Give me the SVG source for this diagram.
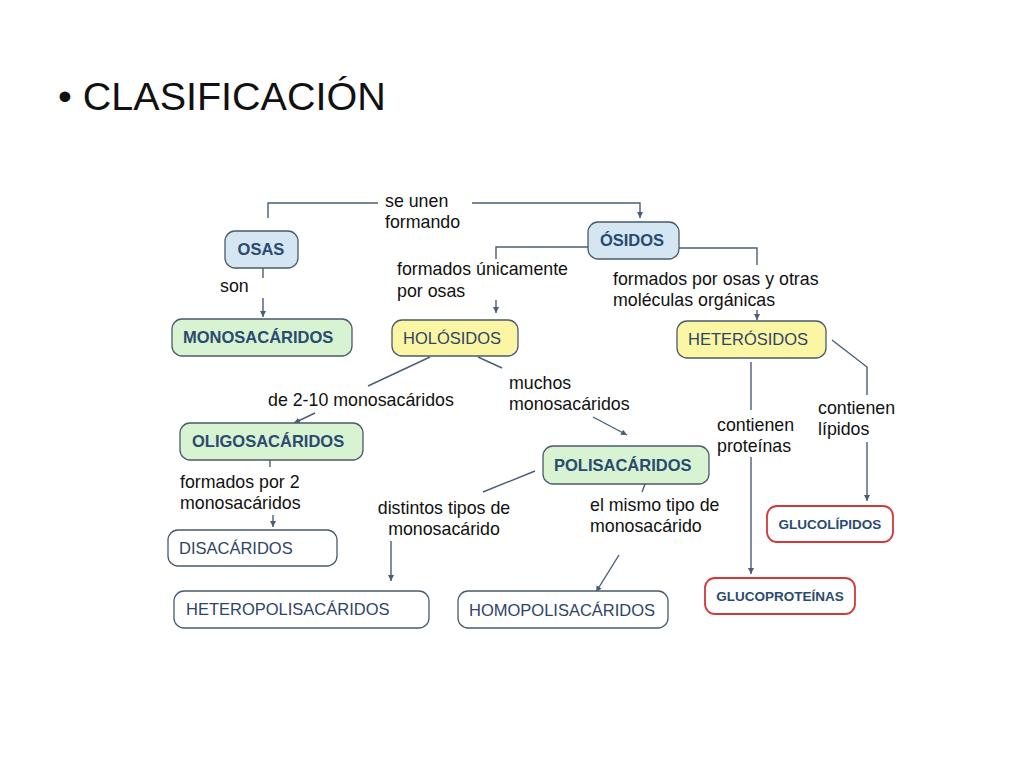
<svg xmlns="http://www.w3.org/2000/svg" width="1024" height="768" viewBox="0 0 1024 768">
<defs>
<marker id="ah" markerWidth="8" markerHeight="8" refX="6" refY="3" orient="auto" markerUnits="userSpaceOnUse">
<path d="M0,0 L6,3 L0,6 Z" fill="#4a5d78"/>
</marker>
</defs>
<style>
.t{font-family:"Liberation Sans",Arial,sans-serif;}
.lbl{font-family:"Liberation Sans",Arial,sans-serif;font-size:17.8px;fill:#111;}
.nb{font-family:"Liberation Sans",Arial,sans-serif;font-size:16.5px;font-weight:bold;fill:#2b4a6f;}
.nn{font-family:"Liberation Sans",Arial,sans-serif;font-size:16.5px;fill:#2e4466;}
.ns{font-family:"Liberation Sans",Arial,sans-serif;font-size:13.5px;font-weight:bold;fill:#2b4a6f;}
.blue{fill:#d3e6f2;stroke:#4b5a6b;stroke-width:1.3;}
.green{fill:#d7f3d2;stroke:#4b5a6b;stroke-width:1.3;}
.yellow{fill:#fbf6a4;stroke:#4b5a6b;stroke-width:1.3;}
.white{fill:#fff;stroke:#4b5a6b;stroke-width:1.3;}
.red{fill:#fff;stroke:#d23a3a;stroke-width:1.8;}
.c{fill:none;stroke:#4a5d78;stroke-width:1.4;}
.ca{fill:none;stroke:#4a5d78;stroke-width:1.4;marker-end:url(#ah);}
</style>
<rect width="1024" height="768" fill="#fff"/>
<text class="t" x="58" y="110" font-size="39.5" fill="#111">• CLASIFICACIÓN</text>

<g id="connectors">
<polyline class="c" points="268,218 268,203 378,203"/>
<polyline class="ca" points="472,203 640,203 640,218"/>
<polyline class="c" points="588,247 496,247 496,259"/>
<line class="ca" x1="496" y1="300" x2="496" y2="313"/>
<polyline class="c" points="679,248 757,248 757,265"/>
<line class="ca" x1="757" y1="310" x2="757" y2="320"/>
<line class="c" x1="263" y1="268" x2="263" y2="278"/>
<line class="ca" x1="263" y1="298" x2="263" y2="317"/>
<line class="c" x1="430" y1="357" x2="368" y2="386"/>
<line class="ca" x1="315" y1="413" x2="294" y2="423"/>
<line class="c" x1="478" y1="357" x2="502" y2="368"/>
<line class="ca" x1="593" y1="417" x2="627" y2="435"/>
<line class="c" x1="270" y1="460" x2="270" y2="467"/>
<line class="ca" x1="273" y1="515" x2="273" y2="527"/>
<line class="c" x1="535" y1="471" x2="483" y2="492"/>
<line class="ca" x1="391" y1="541" x2="391" y2="581"/>
<line class="c" x1="645" y1="484" x2="642" y2="492"/>
<line class="ca" x1="619" y1="555" x2="596" y2="592"/>
<line class="c" x1="751" y1="362" x2="751" y2="410"/>
<line class="ca" x1="751" y1="457" x2="751" y2="574"/>
<polyline class="c" points="832,340 867,367 867,395"/>
<line class="ca" x1="867" y1="442" x2="867" y2="501"/>
</g>

<g id="labels">
<text class="lbl" x="385" y="207">se unen</text>
<text class="lbl" x="385" y="228">formando</text>
<text class="lbl" x="220" y="292">son</text>
<text class="lbl" x="397" y="275">formados únicamente</text>
<text class="lbl" x="397" y="297">por osas</text>
<text class="lbl" x="613" y="285">formados por osas y otras</text>
<text class="lbl" x="613" y="306">moléculas orgánicas</text>
<text class="lbl" x="268" y="406">de 2-10 monosacáridos</text>
<text class="lbl" x="509" y="389">muchos</text>
<text class="lbl" x="509" y="410">monosacáridos</text>
<text class="lbl" x="180" y="488">formados por 2</text>
<text class="lbl" x="180" y="509">monosacáridos</text>
<text class="lbl" x="444" y="514" text-anchor="middle">distintos tipos de</text>
<text class="lbl" x="444" y="535" text-anchor="middle">monosacárido</text>
<text class="lbl" x="590" y="511">el mismo tipo de</text>
<text class="lbl" x="590" y="532">monosacárido</text>
<text class="lbl" x="717" y="431">contienen</text>
<text class="lbl" x="717" y="452">proteínas</text>
<text class="lbl" x="818" y="414">contienen</text>
<text class="lbl" x="818" y="435">lípidos</text>
</g>

<g id="osas"><rect class="blue" x="225" y="231" width="73" height="37" rx="10"/><text class="nb" x="261" y="255" text-anchor="middle">OSAS</text></g>
<g id="osidos"><rect class="blue" x="588" y="222" width="91" height="37" rx="10"/><text class="nb" x="632" y="246" text-anchor="middle">ÓSIDOS</text></g>
<g id="monosacaridos"><rect class="green" x="172" y="319" width="180" height="37" rx="10"/><text class="nb" x="183" y="343">MONOSACÁRIDOS</text></g>
<g id="holosidos"><rect class="yellow" x="392" y="320" width="126" height="36" rx="10"/><text class="nn" x="403" y="344">HOLÓSIDOS</text></g>
<g id="heterosidos"><rect class="yellow" x="677" y="321" width="149" height="37" rx="10"/><text class="nn" x="688" y="345">HETERÓSIDOS</text></g>
<g id="oligosacaridos"><rect class="green" x="180" y="423" width="183" height="37" rx="10"/><text class="nb" x="192" y="447">OLIGOSACÁRIDOS</text></g>
<g id="polisacaridos"><rect class="green" x="543" y="446" width="166" height="38" rx="10"/><text class="nb" x="554" y="471">POLISACÁRIDOS</text></g>
<g id="disacaridos"><rect class="white" x="168" y="530" width="169" height="36" rx="10"/><text class="nn" x="179" y="554">DISACÁRIDOS</text></g>
<g id="heteropolisacaridos"><rect class="white" x="174" y="591" width="255" height="37" rx="10"/><text class="nn" x="186" y="615">HETEROPOLISACÁRIDOS</text></g>
<g id="homopolisacaridos"><rect class="white" x="458" y="591" width="210" height="37" rx="10"/><text class="nn" x="469" y="616">HOMOPOLISACÁRIDOS</text></g>
<g id="glucolipidos"><rect class="red" x="767" y="506" width="126" height="36" rx="10"/><text class="ns" x="830" y="529" text-anchor="middle">GLUCOLÍPIDOS</text></g>
<g id="glucoproteinas"><rect class="red" x="705" y="578" width="150" height="36" rx="10"/><text class="ns" x="780" y="601" text-anchor="middle">GLUCOPROTEÍNAS</text></g>
</svg>
